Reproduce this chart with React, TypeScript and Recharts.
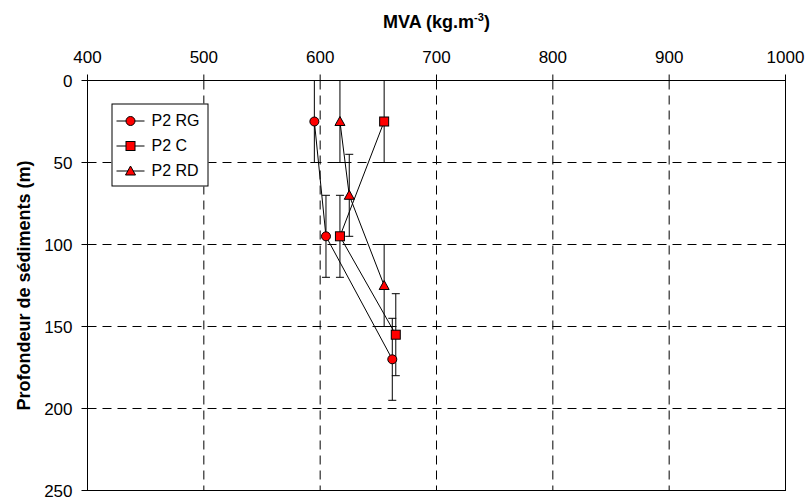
import {
  ScatterChart,
  Scatter,
  XAxis,
  YAxis,
  CartesianGrid,
  ErrorBar,
  Legend,
  Label,
} from "recharts"

// depth (m) and MVA (kg.m-3) per profile, error is +/- on depth
const rgMva = [595, 605, 662]
const rgDepth = [25, 95, 170]
const cMva = [655, 617, 665]
const cDepth = [25, 95, 155]
const rdMva = [617, 625, 655]
const rdDepth = [25, 70, 125]
const depthErr = 25

const xTicks = [400, 500, 600, 700, 800, 900, 1000]
const yTicks = [0, 50, 100, 150, 200, 250]

const FONT = '"Liberation Sans", Arial, sans-serif'
const RED = "#FF0000"

const W = 810
const H = 501
const MARGIN = { top: 30, right: 25, bottom: 11, left: 30 }
const X_AXIS_H = 50
const Y_AXIS_W = 57

type Kind = "circle" | "square" | "triangle"

const toRows = (mva: number[], depth: number[]) =>
  mva.map((m, i) => ({ mva: m, depth: depth[i], err: depthErr }))

const SERIES: { name: string; kind: Kind; data: { mva: number; depth: number; err: number }[] }[] = [
  { name: "P2 RG", kind: "circle", data: toRows(rgMva, rgDepth) },
  { name: "P2 C", kind: "square", data: toRows(cMva, cDepth) },
  { name: "P2 RD", kind: "triangle", data: toRows(rdMva, rdDepth) },
]

function Marker({ kind, cx, cy }: { kind: Kind; cx: number; cy: number }) {
  const common = { fill: RED, stroke: "#000", strokeWidth: 1 }
  if (kind === "circle") return <circle cx={cx} cy={cy} r={4.5} {...common} />
  if (kind === "square") return <rect x={cx - 4.5} y={cy - 4.5} width={9} height={9} {...common} />
  return <polygon points={`${cx},${cy - 5} ${cx + 5},${cy + 4} ${cx - 5},${cy + 4}`} {...common} />
}

function LegendBox() {
  return (
    <div
      style={{
        border: "1px solid #000",
        background: "#fff",
        padding: "3px 8px 3px 3px",
        fontFamily: FONT,
        fontSize: 16,
        lineHeight: "25px",
      }}
    >
      {SERIES.map((s) => (
        <div key={s.name} style={{ display: "flex", alignItems: "center" }}>
          <svg width={30} height={14} style={{ marginRight: 6 }}>
            <line x1={1} y1={7.5} x2={29} y2={7.5} stroke="#000" strokeWidth={1} />
            <Marker kind={s.kind} cx={15} cy={7.5} />
          </svg>
          <span>{s.name}</span>
        </div>
      ))}
    </div>
  )
}

export default function App() {
  const plotLeft = MARGIN.left + Y_AXIS_W
  const plotTop = MARGIN.top + X_AXIS_H
  const plotW = W - plotLeft - MARGIN.right
  const plotH = H - plotTop - MARGIN.bottom
  return (
    <div style={{ position: "absolute", left: 0, top: 0, width: W, height: H, background: "#fff" }}>
      {/* half-pixel shift keeps the 1px lines crisp */}
      <div style={{ transform: "translate(0.5px, 0.5px)" }}>
        <ScatterChart width={W} height={H} margin={MARGIN}>
          <CartesianGrid stroke="#000" strokeDasharray="9 6" />
          <XAxis
            type="number"
            dataKey="mva"
            orientation="top"
            domain={[400, 1000]}
            ticks={xTicks}
            height={X_AXIS_H}
            tickSize={6}
            tickMargin={12}
            stroke="#000"
            tick={{ fill: "#000", fontSize: 17, fontFamily: FONT }}
          >
            <Label
              content={(props: any) => {
                const vb = props.viewBox
                return (
                  <text
                    x={vb.x + vb.width / 2}
                    y={vb.y - 3}
                    textAnchor="middle"
                    fontFamily={FONT}
                    fontWeight="bold"
                    fontSize={18}
                    fill="#000"
                  >
                    MVA (kg.m
                    <tspan dy={-7} fontSize={11}>-3</tspan>
                    <tspan dy={7}>)</tspan>
                  </text>
                )
              }}
            />
          </XAxis>
          <YAxis
            type="number"
            dataKey="depth"
            reversed
            domain={[0, 250]}
            ticks={yTicks}
            width={Y_AXIS_W}
            tickSize={6}
            tickMargin={9}
            stroke="#000"
            tick={{ fill: "#000", fontSize: 17, fontFamily: FONT }}
          >
            <Label
              content={(props: any) => {
                const vb = props.viewBox
                const x = vb.x - 7
                const y = vb.y + vb.height / 2
                return (
                  <text
                    x={x}
                    y={y}
                    transform={`rotate(-90 ${x} ${y})`}
                    textAnchor="middle"
                    dominantBaseline="central"
                    fontFamily={FONT}
                    fontWeight="bold"
                    fontSize={18}
                    fill="#000"
                  >
                    Profondeur de sédiments (m)
                  </text>
                )
              }}
            />
          </YAxis>
          {SERIES.map((s) => (
            <Scatter
              key={s.name}
              name={s.name}
              data={s.data}
              isAnimationActive={false}
              line={{ stroke: "#000", strokeWidth: 1 }}
              lineJointType="linear"
              shape={(p: any) => <Marker kind={s.kind} cx={p.cx} cy={p.cy} />}
            >
              <ErrorBar dataKey="err" direction="y" width={4} stroke="#000" strokeWidth={1} />
            </Scatter>
          ))}
          <Legend
            layout="vertical"
            align="center"
            verticalAlign="middle"
            wrapperStyle={{ left: 111, top: 103, width: "auto" }}
            content={() => <LegendBox />}
          />
        </ScatterChart>
      </div>
      {/* solid right and bottom edges of the plot frame */}
      <div
        style={{
          position: "absolute",
          left: plotLeft,
          top: plotTop,
          width: plotW + 1,
          height: plotH + 1,
          borderRight: "1px solid #000",
          borderBottom: "1px solid #000",
          boxSizing: "border-box",
          pointerEvents: "none",
        }}
      />
    </div>
  )
}
